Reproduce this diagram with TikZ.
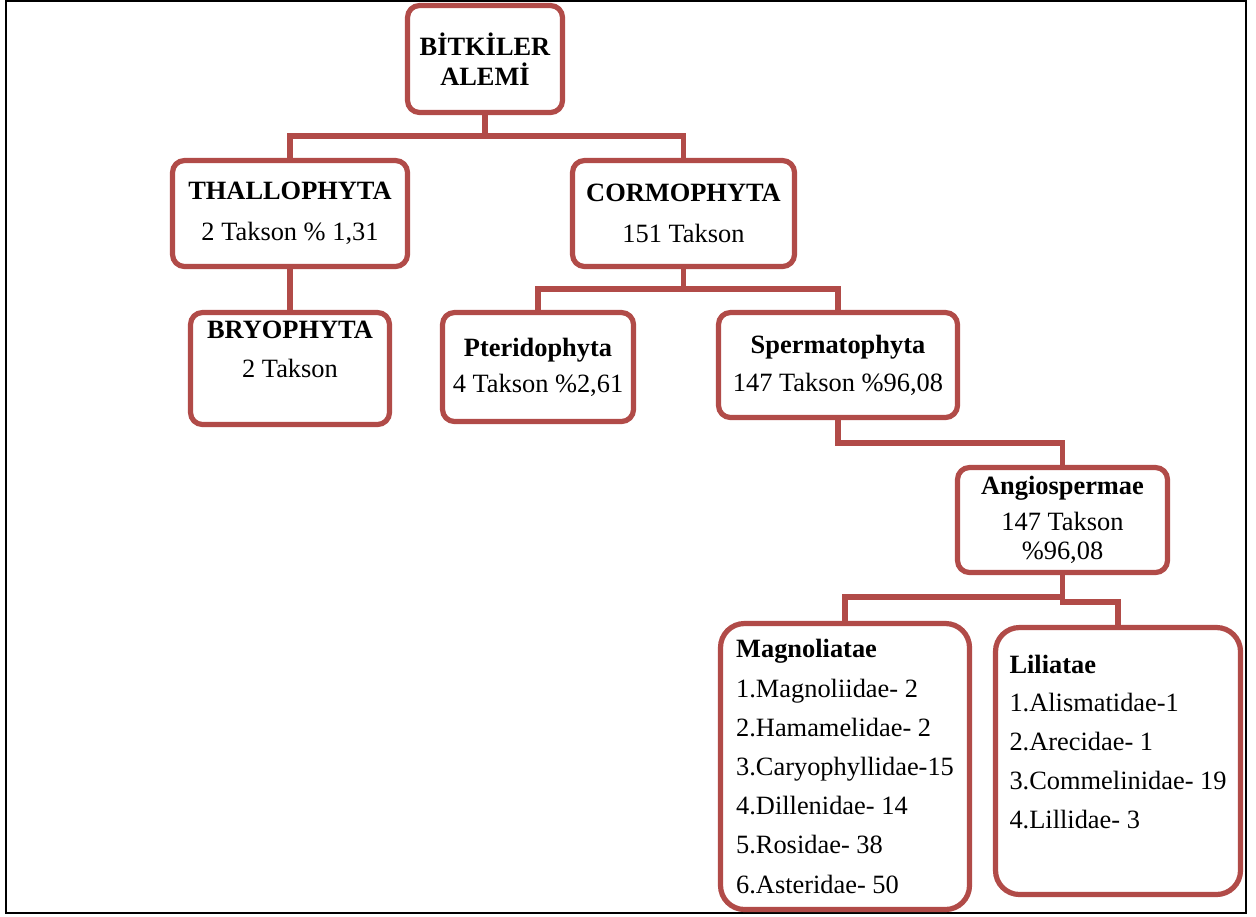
\documentclass[tikz,border=0pt]{standalone}
\usepackage{fontspec}
\setmainfont{Liberation Serif}
\definecolor{bx}{RGB}{177,75,72}
\begin{document}
\begin{tikzpicture}[x=0.5pt,y=-0.5pt,
  box/.style={draw=bx, line width=2.6pt, rounded corners=6pt, fill=white, inner sep=0pt, align=center},
  bigbox/.style={box, rounded corners=12pt, align=left},
  conn/.style={draw=bx, line width=2.6pt}]
\useasboundingbox (0,0) rectangle (1256,916);
\draw[black, line width=1pt] (6,1) rectangle (1246,913);

\node[box, minimum width=77.5pt, minimum height=53.5pt, font=\bfseries\fontsize{13.2}{15}\selectfont] (top) at (485,59) {BİTKİLER\\ALEMİ};
\node[box, minimum width=117.5pt, minimum height=53pt, font=\fontsize{13.2}{20.5}\selectfont] (thal) at (290,213.5) {\textbf{THALLOPHYTA}\\2 Takson \% 1,31};
\node[box, minimum width=111pt, minimum height=53pt, font=\fontsize{13.2}{20.5}\selectfont] (corm) at (683.5,213.5) {\textbf{CORMOPHYTA}\\151 Takson};
\node[box, minimum width=99.5pt, minimum height=56pt, font=\fontsize{13.2}{19.5}\selectfont] (bryo) at (290,368.5) {\textbf{BRYOPHYTA}\\2 Takson\\\mbox{}};
\node[box, minimum width=95.5pt, minimum height=54.5pt, font=\fontsize{13.2}{18}\selectfont] (pter) at (538,367) {\textbf{Pteridophyta}\\4 Takson \%2,61};
\node[box, minimum width=119.5pt, minimum height=52.5pt, font=\fontsize{13.2}{19}\selectfont] (sperm) at (838,365) {\textbf{Spermatophyta}\\147 Takson \%96,08};
\node[box, minimum width=105pt, minimum height=52.5pt, font=\fontsize{13.2}{14.5}\selectfont] (angio) at (1062.5,520) {\textbf{Angiospermae}\\[3.5pt]147 Takson\\\%96,08\rule[-2pt]{0pt}{0pt}};
\node[bigbox, minimum width=124.5pt, minimum height=143pt, font=\fontsize{13.2}{19.6}\selectfont] (magn) at (845,766.5) {\textbf{Magnoliatae}\\1.Magnoliidae- 2\\2.Hamamelidae- 2\\3.Caryophyllidae-15\\4.Dillenidae- 14\\5.Rosidae- 38\\6.Asteridae- 50};
\node[bigbox, minimum width=122.5pt, minimum height=133.5pt, font=\fontsize{13.2}{19.4}\selectfont] (lili) at (1118,761) {\textbf{Liliatae}\\1.Alismatidae-1\\2.Arecidae- 1\\3.Commelinidae- 19\\4.Lillidae- 3\\\mbox{}};

\coordinate (j1) at (485,136);
\coordinate (j2) at (683.5,289);
\coordinate (j3) at (950,443);
\coordinate (j4) at (1062.5,602);
\coordinate (j5) at (1062.5,597);

\draw[conn] (top.south) -- (j1);
\draw[conn] (thal.north) |- (j1) -| (corm.north);
\draw[conn] (thal.south) -- (bryo.north);
\draw[conn] (corm.south) -- (j2);
\draw[conn] (pter.north) |- (j2) -| (sperm.north);
\draw[conn] (sperm.south) |- (j3) -| (angio.north);
\draw[conn] (angio.south) -- (j4) -| (lili.north);
\draw[conn] (magn.north) |- (j5);
\end{tikzpicture}
\end{document}
